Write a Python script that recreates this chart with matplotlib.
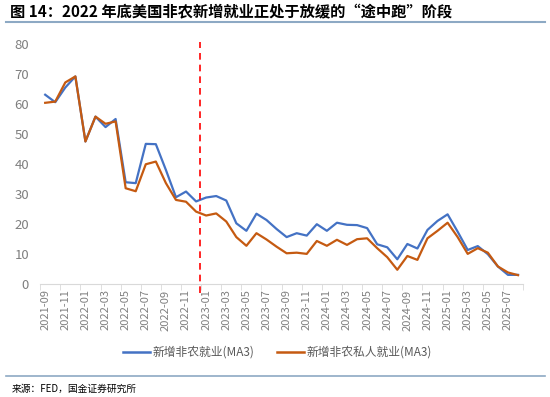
import matplotlib
matplotlib.use("Agg")
import matplotlib.pyplot as plt
import pandas as pd
from matplotlib.lines import Line2D

plt.rcParams['font.family'] = ['Noto Sans CJK SC', 'DejaVu Sans']

months = [p.strftime('%Y-%m') for p in pd.period_range('2021-09', '2025-08', freq='M')]

nonfarm = [63.1, 60.6, 65.5, 69.2, 47.5, 55.8, 52.3, 55.0, 33.9, 33.6, 46.7, 46.6,
           38.0, 28.9, 30.8, 27.5, 28.8, 29.3, 27.8, 20.2, 17.7, 23.4, 21.3, 18.3,
           15.6, 16.9, 16.1, 19.9, 17.7, 20.4, 19.7, 19.6, 18.6, 13.2, 12.2, 8.2,
           13.3, 11.8, 18.0, 21.0, 23.2, 17.4, 11.3, 12.6, 9.9, 5.8, 3.0, 3.0]
private = [60.4, 60.8, 67.2, 69.2, 47.5, 55.8, 53.4, 54.2, 31.9, 30.9, 39.9, 40.8,
           33.6, 28.0, 27.4, 24.1, 22.8, 23.5, 20.8, 15.6, 12.7, 16.9, 14.8, 12.4,
           10.2, 10.4, 10.0, 14.3, 12.7, 14.7, 13.0, 14.9, 15.2, 11.9, 8.9, 4.7,
           9.3, 8.0, 15.2, 17.7, 20.4, 15.6, 10.0, 11.9, 10.4, 5.8, 3.8, 2.9]

labels = ['新增非农就业(MA3)', '新增非农私人就业(MA3)']
title = '图 14：2022 年底美国非农新增就业正处于放缓的“途中跑”阶段'
source = '来源：FED，国金证券研究所'
marker_pos = 15.4  # end of 2022

blue = '#4472C4'
orange = '#C55A11'
grey = '#7f7f7f'

fig = plt.figure(figsize=(5.5, 3.97), dpi=100)
ax = fig.add_axes([0.073, 0.285, 0.878, 0.604])

x = list(range(len(months)))
ax.plot(x, nonfarm, color=blue, lw=1.6, label=labels[0])
ax.plot(x, private, color=orange, lw=1.6, label=labels[1])
ax.plot([marker_pos, marker_pos], [-3, 80.8], color='#FF0000', lw=1.2,
        ls=(0, (4, 3)), clip_on=False)

ax.set_xlim(-0.5, 47.5)
ax.set_ylim(0, 80)
ax.set_yticks(range(0, 81, 10))
ax.set_xticks(x[::2])
ax.set_xticklabels(months[::2], rotation=90, fontsize=8, color=grey)
ax.set_xticks([i - 0.5 for i in range(0, 49, 2)], minor=True)
ax.tick_params(axis='x', which='major', length=0, pad=4)
ax.tick_params(axis='x', which='minor', length=4, color='#d9d9d9')
ax.tick_params(axis='y', length=0, labelsize=9.5, labelcolor=grey, pad=8)
for s in ['top', 'right', 'left']:
    ax.spines[s].set_visible(False)
ax.spines['bottom'].set_color('#d9d9d9')

handles = [Line2D([], [], color=blue, lw=1.8), Line2D([], [], color=orange, lw=1.8)]
fig.legend(handles, labels, loc='center', bbox_to_anchor=(0.504, 0.113), ncol=2,
           frameon=False, fontsize=8.5, handlelength=2.3, handletextpad=0.2,
           columnspacing=1.95, labelcolor='#595959')

fig.text(0.018, 0.97, title, fontsize=11, fontweight='bold', style='italic',
         va='center', ha='left')
fig.add_artist(Line2D([0.01, 0.99], [0.945, 0.945], color='#8DA9C4', lw=1.5))
fig.add_artist(Line2D([0.01, 0.99], [0.053, 0.053], color='#8DA9C4', lw=1.2))
fig.text(0.022, 0.02, source, fontsize=7, va='center', ha='left')

fig.savefig('out.png', dpi=100)
